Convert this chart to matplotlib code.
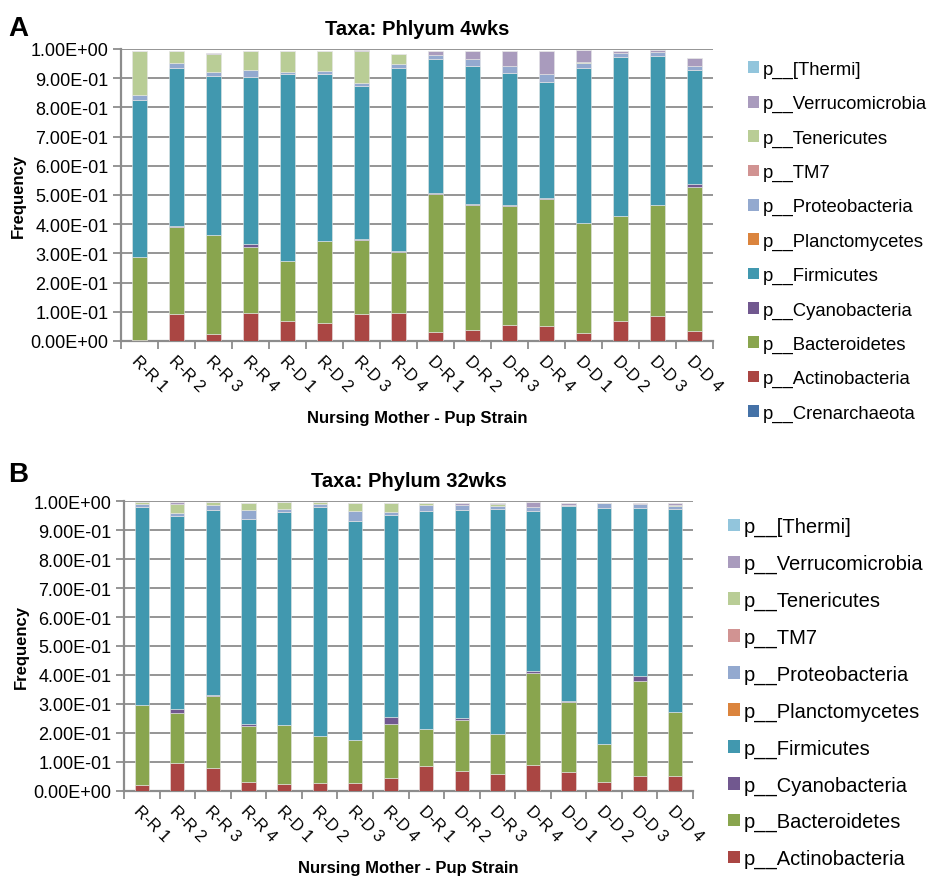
"""phylum-level relative abundance per nursing mother / pup strain, 4wks and 32wks.

two stacked-bar panels (A: 4wks, B: 32wks), excel-style look.
"""
import numpy as np
import matplotlib
matplotlib.use("Agg")
import matplotlib.pyplot as plt
from matplotlib.patches import Patch
from matplotlib.ticker import FuncFormatter, FixedLocator

plt.rcParams["font.family"] = ["Liberation Sans", "DejaVu Sans"]

SAMPLES = ["R-R 1", "R-R 2", "R-R 3", "R-R 4", "R-D 1", "R-D 2", "R-D 3", "R-D 4",
           "D-R 1", "D-R 2", "D-R 3", "D-R 4", "D-D 1", "D-D 2", "D-D 3", "D-D 4"]

# stacking order, bottom -> top
TAXA = ["p__Crenarchaeota", "p__Actinobacteria", "p__Bacteroidetes",
        "p__Cyanobacteria", "p__Firmicutes", "p__Planctomycetes",
        "p__Proteobacteria", "p__TM7", "p__Tenericutes",
        "p__Verrucomicrobia", "p__[Thermi]"]

COLORS = {
    "p__Crenarchaeota": "#4572A7",
    "p__Actinobacteria": "#AA4643",
    "p__Bacteroidetes": "#89A54E",
    "p__Cyanobacteria": "#71588F",
    "p__Firmicutes": "#4198AF",
    "p__Planctomycetes": "#DB843D",
    "p__Proteobacteria": "#93A9CF",
    "p__TM7": "#D19392",
    "p__Tenericutes": "#B9CD96",
    "p__Verrucomicrobia": "#A99BBD",
    "p__[Thermi]": "#92C5DC",
}

# ---- 4 weeks ----
ACTINO_4 = [0.003, 0.094, 0.023, 0.097, 0.070, 0.061, 0.094, 0.096,
            0.030, 0.037, 0.055, 0.050, 0.026, 0.069, 0.085, 0.034]
BACTERO_4 = [0.286, 0.298, 0.339, 0.226, 0.205, 0.283, 0.253, 0.209,
             0.474, 0.428, 0.408, 0.437, 0.379, 0.358, 0.382, 0.492]
CYANO_4 = [0.000, 0.003, 0.002, 0.008, 0.000, 0.000, 0.002, 0.004,
           0.003, 0.003, 0.002, 0.003, 0.000, 0.000, 0.000, 0.013]
FIRMI_4 = [0.536, 0.539, 0.544, 0.572, 0.640, 0.571, 0.523, 0.625,
           0.459, 0.472, 0.452, 0.397, 0.529, 0.545, 0.509, 0.390]
PROTEO_4 = [0.018, 0.019, 0.012, 0.025, 0.007, 0.010, 0.012, 0.015,
            0.013, 0.026, 0.026, 0.026, 0.019, 0.015, 0.015, 0.012]
TENERI_4 = [0.149, 0.041, 0.063, 0.064, 0.070, 0.069, 0.110, 0.034,
            0.000, 0.000, 0.000, 0.000, 0.002, 0.000, 0.000, 0.000]
VERRUCO_4 = [0.000, 0.000, 0.003, 0.002, 0.000, 0.000, 0.002, 0.000,
             0.014, 0.027, 0.050, 0.080, 0.040, 0.006, 0.004, 0.029]

# ---- 32 weeks ----
ACTINO_32 = [0.021, 0.097, 0.079, 0.031, 0.025, 0.029, 0.029, 0.043,
             0.087, 0.069, 0.059, 0.090, 0.066, 0.031, 0.052, 0.052]
BACTERO_32 = [0.276, 0.173, 0.247, 0.192, 0.203, 0.160, 0.146, 0.188,
              0.126, 0.176, 0.137, 0.316, 0.240, 0.130, 0.328, 0.220]
CYANO_32 = [0.000, 0.014, 0.006, 0.008, 0.000, 0.000, 0.000, 0.025,
            0.000, 0.006, 0.000, 0.008, 0.004, 0.000, 0.018, 0.002]
FIRMI_32 = [0.681, 0.663, 0.636, 0.707, 0.733, 0.789, 0.756, 0.695,
            0.754, 0.718, 0.777, 0.553, 0.672, 0.814, 0.577, 0.697]
PROTEO_32 = [0.012, 0.011, 0.018, 0.030, 0.010, 0.012, 0.034, 0.010,
             0.020, 0.018, 0.010, 0.011, 0.006, 0.017, 0.015, 0.011]
TENERI_32 = [0.008, 0.033, 0.011, 0.025, 0.027, 0.008, 0.029, 0.033,
             0.005, 0.000, 0.007, 0.000, 0.000, 0.000, 0.000, 0.004]
VERRUCO_32 = [0.000, 0.004, 0.000, 0.000, 0.000, 0.000, 0.000, 0.000,
              0.002, 0.007, 0.004, 0.017, 0.006, 0.000, 0.004, 0.006]

ZEROS = [0.0] * len(SAMPLES)


def buildStack(actino, bactero, cyano, firmi, proteo, teneri, verruco):
    return {
        "p__Crenarchaeota": ZEROS,
        "p__Actinobacteria": actino,
        "p__Bacteroidetes": bactero,
        "p__Cyanobacteria": cyano,
        "p__Firmicutes": firmi,
        "p__Planctomycetes": ZEROS,
        "p__Proteobacteria": proteo,
        "p__TM7": ZEROS,
        "p__Tenericutes": teneri,
        "p__Verrucomicrobia": verruco,
        "p__[Thermi]": ZEROS,
    }


def drawPanel(fig, rect, stack, title, letter, letter_y, legend_taxa,
              legend_anchor, legend_font, legend_spacing):
    ax = fig.add_axes(rect)
    x = np.arange(len(SAMPLES))
    bottom = np.zeros(len(SAMPLES))
    for taxon in TAXA:
        vals = np.asarray(stack[taxon], dtype=float)
        ax.bar(x, vals, width=0.4, bottom=bottom, color=COLORS[taxon],
               edgecolor="#e6e6e6", linewidth=0.4, zorder=3)
        bottom += vals

    ax.set_xlim(-0.5, len(SAMPLES) - 0.5)
    ax.set_ylim(0, 1.0)
    ax.set_yticks(np.arange(0, 1.01, 0.1))
    ax.yaxis.set_major_formatter(FuncFormatter(lambda v, _: f"{v:.2E}"))
    ax.grid(axis="y", color="#8c8c8c", linewidth=1.3, zorder=0)
    for side in ("top", "right"):
        ax.spines[side].set_visible(False)
    for side in ("left", "bottom"):
        ax.spines[side].set_color("#8c8c8c")
        ax.spines[side].set_linewidth(1.6)

    # category labels at bar centers, tick marks between categories
    ax.set_xticks(x)
    ax.set_xticklabels(SAMPLES, rotation=-45, ha="left",
                       rotation_mode="anchor", fontsize=12)
    ax.tick_params(axis="x", which="major", length=0, pad=8)
    ax.xaxis.set_minor_locator(FixedLocator(np.arange(-0.5, len(SAMPLES), 1.0)))
    ax.tick_params(axis="x", which="minor", length=6, width=1.3,
                   color="#8c8c8c", direction="out")
    ax.tick_params(axis="y", length=6, width=1.3, color="#8c8c8c",
                   labelsize=13, pad=3)

    ax.set_title(title, fontsize=14.5, fontweight="bold", pad=11)
    ax.set_xlabel("Nursing Mother - Pup Strain", fontsize=12,
                  fontweight="bold", labelpad=12)
    ax.set_ylabel("Frequency", fontsize=12, fontweight="bold", labelpad=3)
    fig.text(0.009, letter_y, letter, fontsize=20,
             fontweight="bold", va="center", ha="left")

    handles = [Patch(facecolor=COLORS[t], edgecolor="none", label=t)
               for t in legend_taxa]
    fig.legend(handles=handles, loc="upper left", bbox_to_anchor=legend_anchor,
               frameon=False, fontsize=legend_font, labelspacing=legend_spacing,
               handlelength=0.6, handleheight=0.6, handletextpad=0.22,
               borderaxespad=0.0)
    return ax


def main():
    fig = plt.figure(figsize=(9.29, 8.78), dpi=100)

    stack4 = buildStack(ACTINO_4, BACTERO_4, CYANO_4, FIRMI_4, PROTEO_4,
                        TENERI_4, VERRUCO_4)
    stack32 = buildStack(ACTINO_32, BACTERO_32, CYANO_32, FIRMI_32, PROTEO_32,
                         TENERI_32, VERRUCO_32)

    legend_a = TAXA[::-1]
    legend_b = [t for t in TAXA[::-1] if t != "p__Crenarchaeota"]

    drawPanel(fig, [0.1302, 0.6105, 0.6373, 0.3326], stack4,
              "Taxa: Phlyum 4wks", "A", 0.967, legend_a, (0.797, 0.938),
              13.3, 0.93)
    drawPanel(fig, [0.1335, 0.0980, 0.6125, 0.3302], stack32,
              "Taxa: Phylum 32wks", "B", 0.459, legend_b, (0.7745, 0.419),
              14.5, 0.875)

    fig.savefig("out.png", dpi=100)
    plt.close(fig)


if __name__ == "__main__":
    main()
